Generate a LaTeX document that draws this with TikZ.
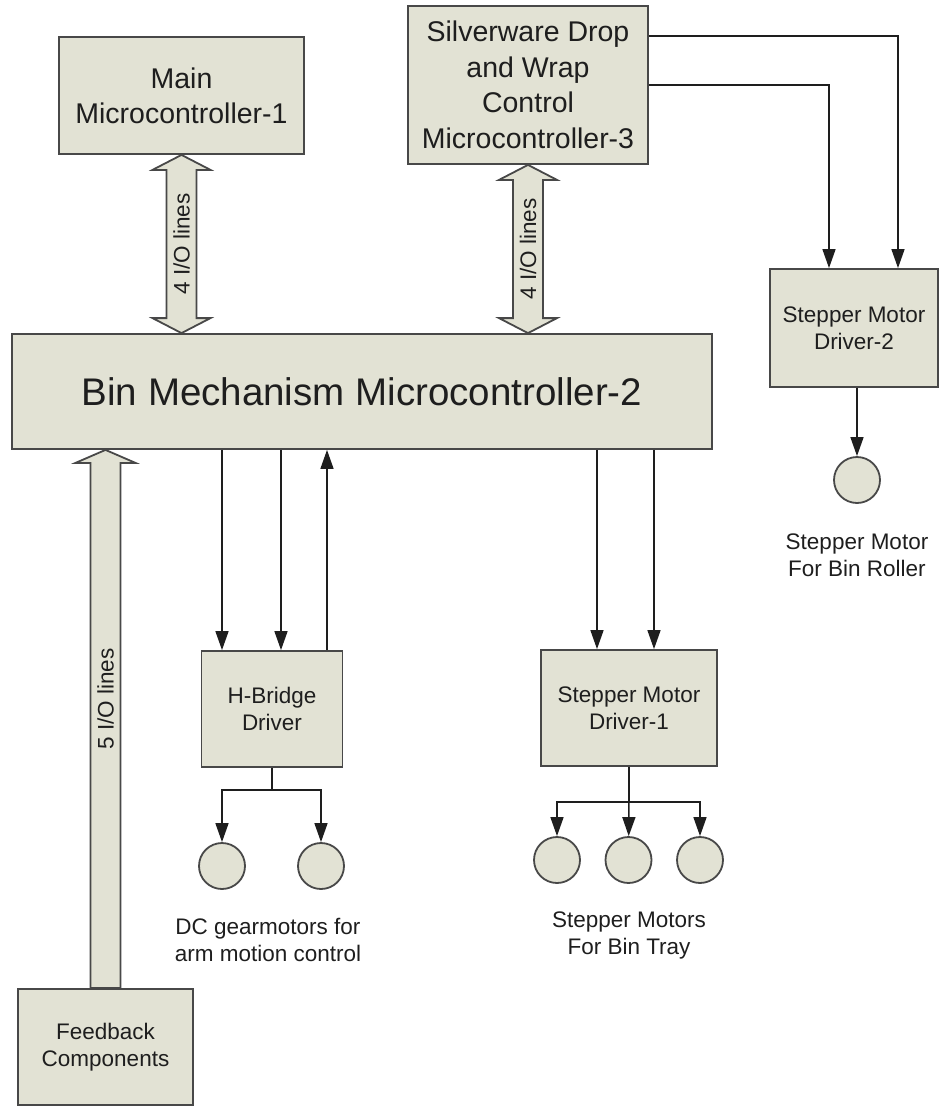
\documentclass[tikz,border=0pt]{standalone}
\usepackage{fontspec}
\setmainfont{Liberation Sans}
\usetikzlibrary{arrows.meta,calc}

\definecolor{boxfill}{RGB}{226,226,212}
\definecolor{boxline}{RGB}{72,72,72}
\definecolor{ink}{RGB}{30,30,30}

\begin{document}
\begin{tikzpicture}[x=1pt,y=-1pt,node distance=99pt,
	block/.style={draw=boxline, line width=1.8pt, fill=boxfill, align=center, inner sep=0pt, text=ink, font=\fontsize{22.5pt}{27pt}\selectfont},
	motor/.style={circle, draw=boxline, line width=1.8pt, fill=boxfill, minimum size=46pt, inner sep=0pt},
	link/.style={draw=ink, line width=1.5pt},
	wire/.style={link, -{Triangle[length=19pt,width=13pt]}},
	bus/.style={draw=boxline, line width=1.8pt, fill=boxfill},
	lbl/.style={align=center, text=ink, font=\fontsize{22.5pt}{27pt}\selectfont}]
	\useasboundingbox (0,0) rectangle (940,1106);

	% controllers
	\node[block, minimum width=245pt, minimum height=117pt, font=\fontsize{28.5pt}{35pt}\selectfont] (main) at (181.5,95.5) {Main\\Microcontroller-1};
	\node[block, minimum width=240pt, minimum height=158pt, font=\fontsize{28.5pt}{35.5pt}\selectfont] (silver) at (528,85) {Silverware Drop\\and Wrap\\Control\\Microcontroller-3};
	\node[block, minimum width=700pt, minimum height=115pt, font=\fontsize{38.5pt}{46pt}\selectfont] (bin) at (362,391.5) {Bin Mechanism Microcontroller-2};

	% drivers
	\node[block, minimum width=168pt, minimum height=118pt] (drv2) at (854,328) {Stepper Motor\\Driver-2};
	\node[block, minimum width=141pt, minimum height=116pt] (hb) at (272,709) {H-Bridge\\Driver};
	\node[block, minimum width=176pt, minimum height=116pt] (drv1) at (629,708) {Stepper Motor\\Driver-1};
	\node[block, minimum width=175pt, minimum height=116pt] (fb) at (105.5,1047) {Feedback\\Components};

	% motors
	\node[motor] (m1) at (222,866) {};
	\node[motor, right of=m1] (m2) {};
	\node[motor] (m3) at (557,860) {};
	\node[motor, node distance=71.5pt, right of=m3] (m4) {};
	\node[motor, node distance=71.5pt, right of=m4] (m5) {};
	\node[motor] (m6) at (857,480) {};

	\node[lbl] (dclbl) at (268,940) {DC gearmotors for\\arm motion control};
	\node[lbl] (traylbl) at (629,935) {Stepper Motors\\For Bin Tray};
	\node[lbl, node distance=75pt, below of=m6] (rollerlbl) {Stepper Motor\\For Bin Roller};

	% I/O buses
	\draw[bus] let \p1=(main.south), \p2=(bin.north) in
		(\x1,\y1) -- (\x1+29pt,\y1-15pt) -- (\x1+15pt,\y1-15pt) -- (\x1+15pt,\y2+15pt) -- (\x1+29pt,\y2+15pt)
		-- (\x1,\y2) -- (\x1-29pt,\y2+15pt) -- (\x1-15pt,\y2+15pt) -- (\x1-15pt,\y1-15pt) -- (\x1-29pt,\y1-15pt) -- cycle;
	\node[lbl, rotate=90] (bus1) at ($(main.south)!0.5!(main.south |- bin.north)$) {4 I/O lines};

	\draw[bus] let \p1=(silver.south), \p2=(bin.north) in
		(\x1,\y1) -- (\x1+29pt,\y1-15pt) -- (\x1+15pt,\y1-15pt) -- (\x1+15pt,\y2+15pt) -- (\x1+29pt,\y2+15pt)
		-- (\x1,\y2) -- (\x1-29pt,\y2+15pt) -- (\x1-15pt,\y2+15pt) -- (\x1-15pt,\y1-15pt) -- (\x1-29pt,\y1-15pt) -- cycle;
	\node[lbl, rotate=90] (bus3) at ($(silver.south)!0.5!(silver.south |- bin.north)$) {4 I/O lines};

	\draw[bus] let \p1=(fb.north), \p2=(fb.north |- bin.south) in
		(\x1-15pt,\y1) -- (\x1-15pt,\y2-13pt) -- (\x1-30pt,\y2-13pt) -- (\x2,\y2)
		-- (\x1+30pt,\y2-13pt) -- (\x1+15pt,\y2-13pt) -- (\x1+15pt,\y1) -- cycle;
	\node[lbl, rotate=90] (bus5) at ([yshift=10pt]fb.north |- hb) {5 I/O lines};

	% control lines
	\coordinate (h2) at ([xshift=9pt]hb.north);
	\coordinate (h3) at ([xshift=55pt]hb.north);
	\coordinate (d1) at ([xshift=-32pt]drv1.north);
	\coordinate (d2) at ([xshift=25pt]drv1.north);
	\coordinate (s1) at ([xshift=-25pt]drv2.north);
	\coordinate (s2) at ([xshift=44pt]drv2.north);

	\draw[wire] (m1 |- bin.south) -- (m1 |- hb.north);
	\draw[wire] (h2 |- bin.south) -- (h2);
	\draw[wire] (h3) -- (h3 |- bin.south);
	\draw[wire] (d1 |- bin.south) -- (d1);
	\draw[wire] (d2 |- bin.south) -- (d2);
	\draw[wire] ([yshift=49pt]silver.east) -| (s2);
	\draw[wire] (silver.east) -| (s1);

	% motor feeds
	\draw[link] (hb.south) -- ++(0,22) coordinate (hj);
	\draw[wire] (hj) -| (m1);
	\draw[wire] (hj) -| (m2);
	\draw[link] (drv1.south) -- ++(0,35) coordinate (sj);
	\draw[wire] (sj) -| (m3);
	\draw[wire] (sj) -- (m4);
	\draw[wire] (sj) -| (m5);
	\draw[wire] (m6 |- drv2.south) -- (m6);
\end{tikzpicture}
\end{document}
